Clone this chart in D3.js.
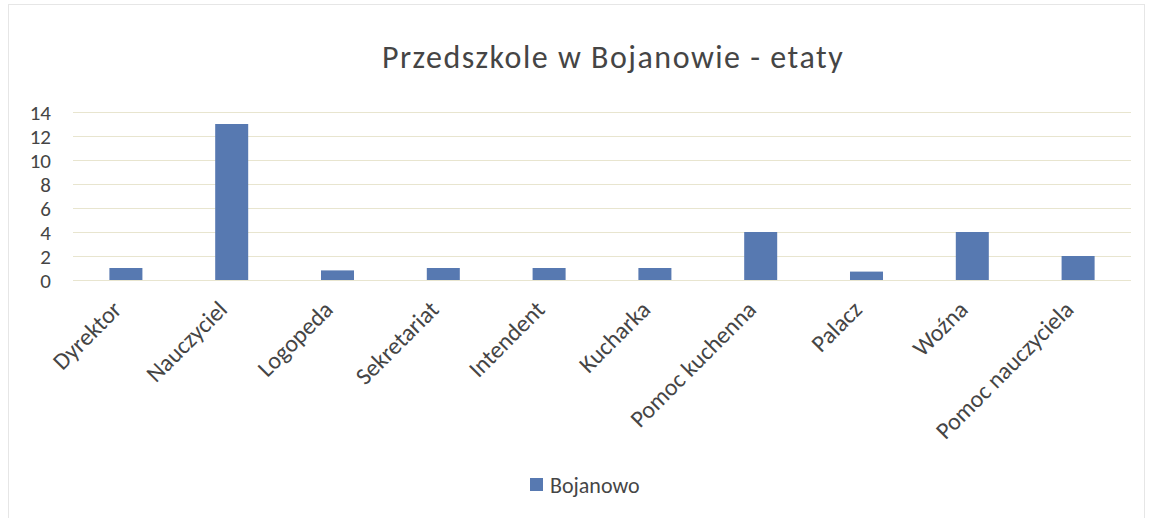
<!DOCTYPE html>
<html>
<head>
<meta charset="utf-8">
<script src="https://cdn.jsdelivr.net/npm/d3@7"></script>
<style>
  body { margin: 0; background: #fff; }
  svg { display: block; font-family: Carlito, Calibri, Lato, sans-serif; }
</style>
</head>
<body>
<svg id="chart" width="1150" height="518"></svg>
<script>
const title = 'Przedszkole w Bojanowie - etaty'
const seriesName = 'Bojanowo'
const categories = ['Dyrektor', 'Nauczyciel', 'Logopeda', 'Sekretariat', 'Intendent', 'Kucharka', 'Pomoc kuchenna', 'Palacz', 'Woźna', 'Pomoc nauczyciela']
const values = [1, 13, 0.8, 1, 1, 1, 4, 0.7, 4, 2]
const yTicks = [0, 2, 4, 6, 8, 10, 12, 14]

const drawChart = () => {
    const svg = d3.select('#chart')
    const margin = { 'left': 73, 'right': 19, 'top': 112, 'bottom': 238 }
    const width = 1150 - margin.left - margin.right
    const height = 518 - margin.top - margin.bottom
    const textColor = '#454545'

    // faint frame of the scanned chart
    svg.append('rect')
        .attr('x', 8.5)
        .attr('y', 4.5)
        .attr('width', 1136)
        .attr('height', 520)
        .attr('fill', 'none')
        .attr('stroke', '#e6e6e6')

    let x = d3.scaleBand()
        .domain(categories)
        .range([0, width])
        .paddingInner(0.688)
        .paddingOuter(0.344)

    let y = d3.scaleLinear()
        .domain([0, 14])
        .range([height, 0])

    const g = svg.append('g')
        .attr('transform', `translate(${margin.left},${margin.top})`)

    g.append('g')
        .selectAll('line')
        .data(yTicks)
        .join('line')
        .attr('x1', 0)
        .attr('x2', width)
        .attr('y1', d => y(d) + 0.5)
        .attr('y2', d => y(d) + 0.5)
        .attr('stroke', '#e8e5cf')
        .attr('stroke-width', 1.2)

    const yAxis = g.append('g')
        .attr('transform', 'translate(-22,0)')
        .call(d3.axisLeft(y).tickValues(yTicks).tickSize(0).tickPadding(0))
    yAxis.select('.domain').remove()
    yAxis.selectAll('text')
        .attr('dy', '0.36em')
        .style('font-size', '21px')
        .style('font-family', 'Carlito, Calibri, Lato, sans-serif')
        .style('fill', textColor)

    g.append('g')
        .selectAll('rect')
        .data(values)
        .join('rect')
        .attr('x', (d, i) => x(categories[i]))
        .attr('y', d => y(d))
        .attr('width', x.bandwidth())
        .attr('height', d => height - y(d))
        .style('fill', '#5779b1')

    g.append('g')
        .selectAll('text')
        .data(categories)
        .join('text')
        .attr('transform', d => `translate(${x(d) + x.bandwidth() / 2 - 3},${height + 31}) rotate(-45)`)
        .attr('text-anchor', 'end')
        .style('font-size', '24px')
        .style('fill', textColor)
        .text(d => d)

    svg.append('text')
        .attr('x', 613)
        .attr('y', 68)
        .attr('text-anchor', 'middle')
        .style('font-size', '32px')
        .style('letter-spacing', '1.5px')
        .style('fill', textColor)
        .text(title)

    const legend = svg.append('g')
        .attr('transform', 'translate(530,478)')
    legend.append('rect')
        .attr('width', 13)
        .attr('height', 13)
        .style('fill', '#5779b1')
    legend.append('text')
        .attr('x', 20)
        .attr('y', 15)
        .style('font-size', '22px')
        .style('fill', textColor)
        .text(seriesName)
}
drawChart()
</script>
</body>
</html>
